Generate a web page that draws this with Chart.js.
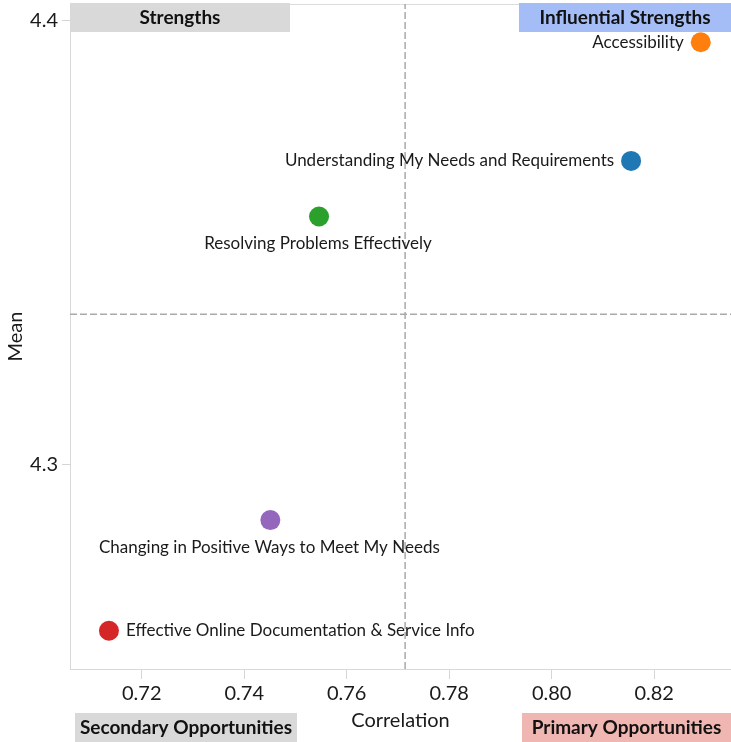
<!DOCTYPE html>
<html><head><meta charset="utf-8">
<script src="https://cdn.jsdelivr.net/npm/chart.js@4.4.0/dist/chart.umd.min.js"></script>
<style>html,body{margin:0;padding:0;background:#fff;}#wrap{width:731px;height:742px;position:relative;}</style>
</head><body><div id="wrap"><canvas id="c" width="731" height="742"></canvas></div>
<script>
// ---- data ----
const categories = [
  'Accessibility',
  'Understanding My Needs and Requirements',
  'Resolving Problems Effectively',
  'Changing in Positive Ways to Meet My Needs',
  'Effective Online Documentation & Service Info'
];
const correlation = [0.8291, 0.8155, 0.7546, 0.7451, 0.7136];
const mean = [4.3951, 4.3684, 4.3559, 4.2876, 4.2627];
const xTicks = [0.72, 0.74, 0.76, 0.78, 0.80, 0.82];
const yTicks = [4.3, 4.4];
const xRange = [0.7060, 0.8350];
const yRange = [4.2541, 4.4037];
const avgCorrelation = 0.7714;
const avgMean = 4.3339;
const quadrantNames = ['Strengths', 'Influential Strengths', 'Secondary Opportunities', 'Primary Opportunities'];
// ---- styles ----
const pointColors = ['#ff7f0e', '#1f77b4', '#2ca02c', '#9467bd', '#d62728'];
const labelSide = ['left', 'left', 'below', 'below', 'right'];
const FONT = 'Lato';

const labelPlugin = {
  id: 'pointLabels',
  afterDatasetsDraw(chart) {
    const ctx = chart.ctx;
    const meta = chart.getDatasetMeta(2);
    ctx.save();
    ctx.font = '17px ' + FONT;
    ctx.fillStyle = '#1a1a1a';
    meta.data.forEach((pt, i) => {
      const side = labelSide[i];
      if (side === 'left') { ctx.textAlign = 'right'; ctx.textBaseline = 'middle'; ctx.fillText(categories[i], pt.x - 17, pt.y); }
      else if (side === 'right') { ctx.textAlign = 'left'; ctx.textBaseline = 'middle'; ctx.fillText(categories[i], pt.x + 17, pt.y); }
      else { ctx.textAlign = 'center'; ctx.textBaseline = 'middle'; ctx.fillText(categories[i], pt.x - 1, pt.y + 27); }
    });
    ctx.restore();
  }
};

const framePlugin = {
  id: 'frame',
  beforeDatasetsDraw(chart) {
    const {ctx, chartArea} = chart;
    ctx.save();
    ctx.strokeStyle = '#dcdcdc';
    ctx.lineWidth = 1;
    ctx.beginPath();
    ctx.moveTo(chartArea.left, chartArea.top + 0.5);
    ctx.lineTo(chartArea.right, chartArea.top + 0.5);
    ctx.stroke();
    ctx.restore();
  },
  afterDraw(chart) {
    const {ctx, chartArea, width, height} = chart;
    const boxes = [
      {t: quadrantNames[0], l: chartArea.left, r: chartArea.left + 220, top: 3, fill: '#d9d9d9'},
      {t: quadrantNames[1], l: width - 212, r: width, top: 3, fill: '#a4bdf6'},
      {t: quadrantNames[2], l: chartArea.left + 5, r: chartArea.left + 227, top: height - 29, fill: '#d9d9d9'},
      {t: quadrantNames[3], l: width - 209, r: width, top: height - 29, fill: '#f0b7b2'}
    ];
    ctx.save();
    boxes.forEach(b => {
      ctx.fillStyle = b.fill;
      ctx.fillRect(b.l, b.top, b.r - b.l, 29);
      ctx.fillStyle = '#111';
      ctx.font = 'bold 19px ' + FONT;
      ctx.textAlign = 'center';
      ctx.textBaseline = 'middle';
      ctx.fillText(b.t, (b.l + b.r) / 2, b.top + 15);
    });
    ctx.restore();
  }
};

new Chart(document.getElementById('c'), {
  type: 'scatter',
  data: {
    datasets: [
      {
        data: [{x: avgCorrelation, y: yRange[0]}, {x: avgCorrelation, y: yRange[1]}],
        showLine: true, borderColor: '#aaaaaa', borderWidth: 1.5, borderDash: [7, 3],
        pointRadius: 0, fill: false
      },
      {
        data: [{x: xRange[0], y: avgMean}, {x: xRange[1], y: avgMean}],
        showLine: true, borderColor: '#aaaaaa', borderWidth: 1.5, borderDash: [7, 3],
        pointRadius: 0, fill: false
      },
      {
        data: correlation.map((c, i) => ({x: c, y: mean[i]})),
        backgroundColor: pointColors, borderWidth: 0, pointRadius: 10, pointHoverRadius: 10
      }
    ]
  },
  options: {
    responsive: false,
    devicePixelRatio: 1,
    animation: false,
    layout: {autoPadding: false, padding: {top: 4, right: 0, left: 0, bottom: 0}},
    plugins: {legend: {display: false}, tooltip: {enabled: false}},
    scales: {
      x: {
        type: 'linear', min: xRange[0], max: xRange[1],
        afterBuildTicks: s => { s.ticks = xTicks.map(v => ({value: v})); },
        afterFit: s => { s.height = 73; s.paddingLeft = 0; s.paddingRight = 0; },
        ticks: {callback: v => v.toFixed(2), font: {family: FONT, size: 20}, color: '#1a1a1a', padding: 3, maxRotation: 0},
        grid: {drawOnChartArea: false, drawTicks: true, tickLength: 10, tickColor: '#d5d5d5'},
        border: {color: '#d9d9d9', width: 1},
        title: {display: true, text: 'Correlation', font: {family: FONT, size: 20}, color: '#1a1a1a', padding: {top: 0, bottom: 9}}
      },
      y: {
        type: 'linear', min: yRange[0], max: yRange[1],
        afterBuildTicks: s => { s.ticks = yTicks.map(v => ({value: v})); },
        afterFit: s => { s.width = 70; s.paddingTop = 0; s.paddingBottom = 0; },
        ticks: {callback: v => v.toFixed(1), font: {family: FONT, size: 20}, color: '#1a1a1a', padding: 4},
        grid: {drawOnChartArea: false, drawTicks: true, tickLength: 8, tickColor: '#d5d5d5'},
        border: {color: '#d9d9d9', width: 1},
        title: {display: true, text: 'Mean', font: {family: FONT, size: 20}, color: '#1a1a1a', padding: {top: 4, bottom: 0}}
      }
    }
  },
  plugins: [labelPlugin, framePlugin]
});
</script>
</body></html>
